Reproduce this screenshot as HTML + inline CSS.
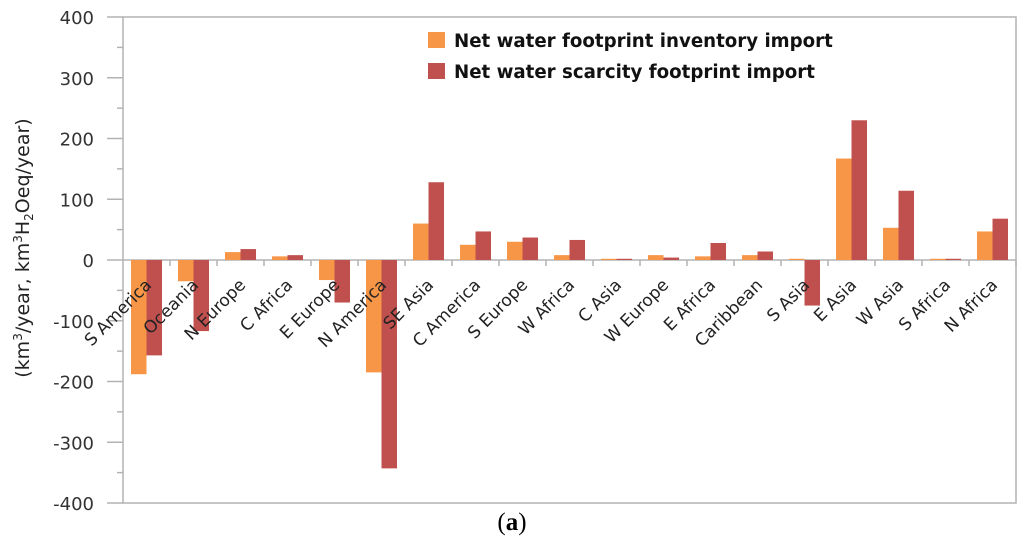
<!DOCTYPE html>
<html><head><meta charset="utf-8"><style>
body{margin:0;background:#fff;}
svg text{font-family:"DejaVu Sans","Liberation Sans",sans-serif;}
</style></head><body>
<svg id="chart" width="1024" height="555" xmlns="http://www.w3.org/2000/svg">
<rect x="123" y="17" width="893" height="486" fill="none" stroke="#b3b3b3" stroke-width="1.5"/>
<g id="axes"></g>
<g id="bars"></g>
<g id="labels"></g>
<g>
<rect x="428" y="32" width="17" height="16" fill="#F79646"/>
<text x="454" y="47" font-size="18.2" font-weight="bold" fill="#111">Net water footprint inventory import</text>
<rect x="428" y="63" width="17" height="16" fill="#C0504D"/>
<text x="454" y="78" font-size="18.2" font-weight="bold" fill="#111">Net water scarcity footprint import</text>
</g>
<text transform="translate(29,248) rotate(-90)" text-anchor="middle" font-size="19" fill="#222">(km<tspan font-size="12" dy="-7">3</tspan><tspan dy="7">/year, km</tspan><tspan font-size="12" dy="-7">3</tspan><tspan dy="7">H</tspan><tspan font-size="12" dy="4">2</tspan><tspan dy="-4">Oeq/year)</tspan></text>
<text x="512" y="530" text-anchor="middle" font-size="25" style="font-family:'Liberation Serif',serif">(<tspan font-weight="bold">a</tspan>)</text>
</svg>
<script>
const categories=["S America","Oceania","N Europe","C Africa","E Europe","N America","SE Asia","C America","S Europe","W Africa","C Asia","W Europe","E Africa","Caribbean","S Asia","E Asia","W Asia","S Africa","N Africa"];
const inventoryImport=[-188,-35,13,6,-33,-185,60,25,30,8,2,8,6,8,2,167,53,2,47];
const scarcityImport=[-157,-117,18,8,-70,-343,128,47,37,33,2,4,28,14,-75,230,114,2,68];
const yTicks=[400,300,200,100,0,-100,-200,-300,-400];
const NS="http://www.w3.org/2000/svg";
const x0=123,x1=1016,yTop=17,yBot=503,vMin=-400,vMax=400;
const bw=(x1-x0)/categories.length;
function yS(v){return yTop+(vMax-v)/(vMax-vMin)*(yBot-yTop);}
function xS(i){return x0+i*bw;}
function mk(tag,attrs,parent){const e=document.createElementNS(NS,tag);for(const k in attrs)e.setAttribute(k,attrs[k]);parent.appendChild(e);return e;}
const axes=document.getElementById('axes'),bars=document.getElementById('bars'),labels=document.getElementById('labels');
for(let v=vMin;v<=vMax;v+=50){
  const major=v%100===0;
  const t=mk('line',{x1:major?x0-16:x0-6,x2:x0,y1:yS(v),y2:yS(v),stroke:'#b3b3b3','stroke-width':1.5},axes);
  
  
}
yTicks.forEach(v=>{
  const t=mk('text',{x:x0-29,y:yS(v)+7,'text-anchor':'end','font-size':18,fill:'#333'},axes);
  t.textContent=String(v);
  
  
});
categories.forEach((c,i)=>{
  const cx=xS(i)+bw/2, w=bw*0.33;
  const vals=[inventoryImport[i],scarcityImport[i]],cols=['#F79646','#C0504D'];
  vals.forEach((v,k)=>{
    const y=Math.min(yS(v),yS(0)),h=Math.abs(yS(v)-yS(0));
    const r=mk('rect',{x:cx-w+k*w,y:y,width:w,height:Math.max(h,1),fill:cols[k]},bars);
    
    
  });
  const tk=mk('line',{x1:xS(i+1),x2:xS(i+1),y1:yS(0),y2:yS(0)+6,stroke:'#b3b3b3','stroke-width':1.5},axes);
  
  
  const lx=cx+6,ly=yS(0)+26;
  const t=mk('text',{x:lx,y:ly,'text-anchor':'end','font-size':17,fill:'#222',transform:`rotate(-45 ${lx} ${ly})`},labels);
  t.textContent=c;
  
  
});
const zl=mk('line',{x1:x0,x2:x1,y1:yS(0),y2:yS(0),stroke:'#b3b3b3','stroke-width':1.5},axes);


</script>
</body></html>
